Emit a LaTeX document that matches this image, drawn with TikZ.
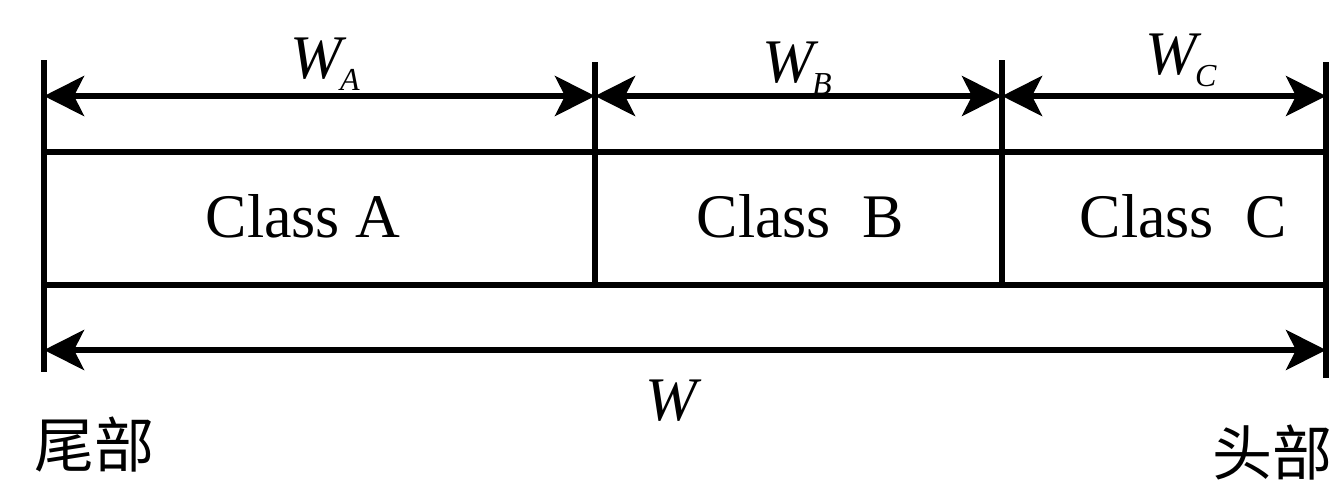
\documentclass[tikz,border=0pt]{standalone}
\usepackage{fontspec}
\setmainfont{Liberation Serif}
\newfontfamily\cjk{Noto Sans CJK SC}
\usetikzlibrary{arrows.meta}
\tikzset{
  rule/.style={line width=3pt},
  dim/.style={line width=3pt, {Stealth[length=20pt,width=20pt,inset=5pt]}-{Stealth[length=20pt,width=20pt,inset=5pt]}},
  classlbl/.style={font=\fontsize{31}{31}\selectfont, anchor=base, inner sep=0pt},
  wlbl/.style={font=\fontsize{31}{31}\selectfont\itshape, anchor=base west, inner sep=0pt},
  cjklbl/.style={font=\cjk\fontsize{30}{30}\selectfont, anchor=west, inner sep=0pt}
}
\newcommand{\sublbl}[1]{\kern-1pt\raisebox{-6pt}{\fontsize{16}{16}\selectfont\itshape #1}}
\begin{document}
\begin{tikzpicture}[x=0.5pt,y=-0.5pt]
\useasboundingbox (0,0) rectangle (1331,493);
\clip (0,0) rectangle (1331,493);
% vertical lines
\coordinate (L0) at (44,60);
\coordinate (L1) at (44,372);
\coordinate (D1t) at (595,62);
\coordinate (D1b) at (595,285);
\coordinate (D2t) at (1002,60);
\coordinate (D2b) at (1002,285);
\coordinate (R0) at (1326,62);
\coordinate (R1) at (1326,378);
\draw[rule] (L0) -- (L1);
\draw[rule] (D1t) -- (D1b);
\draw[rule] (D2t) -- (D2b);
\draw[rule] (R0) -- (R1);
% horizontal box lines
\coordinate (T0) at (44,152);
\coordinate (T1) at (1326,152);
\coordinate (B0) at (44,285);
\coordinate (B1) at (1326,285);
\draw[rule] (T0) -- (T1);
\draw[rule] (B0) -- (B1);
% dimension arrows
\coordinate (aA) at (44,96);
\coordinate (aB) at (595,96);
\coordinate (aC) at (1002,96);
\coordinate (aD) at (1326,96);
\draw[dim] (aA) -- (aB);
\draw[dim] (aB) -- (aC);
\draw[dim] (aC) -- (aD);
\coordinate (wA) at (44,350);
\coordinate (wB) at (1326,350);
\draw[dim] (wA) -- (wB);
% labels
\node[wlbl] (WA) at (290,78) {W\sublbl{A}};
\node[wlbl] (WB) at (762,82) {W\sublbl{B}};
\node[wlbl] (WC) at (1145,74) {W\sublbl{C}};
\node[wlbl] (W) at (645,420) {W};
\node[classlbl] (CA) at (303,237) {Class A};
\node[classlbl] (CB) at (800,237) {Class\ \ B};
\node[classlbl] (CC) at (1183,237) {Class\ \ C};
\node[cjklbl] (tail) at (34,445) {尾部};
\node[cjklbl] (head) at (1212,453) {头部};
\end{tikzpicture}
\end{document}
